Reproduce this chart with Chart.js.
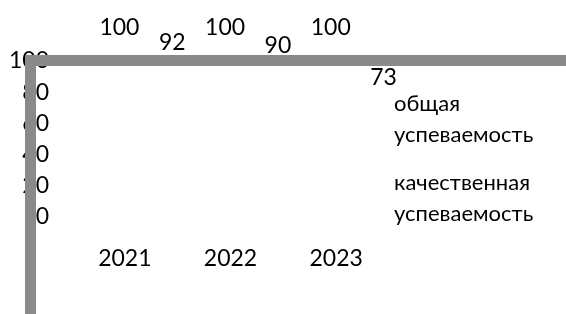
<!DOCTYPE html>
<html>
<head>
<meta charset="utf-8">
<script src="https://cdn.jsdelivr.net/npm/chart.js@4/dist/chart.umd.min.js"></script>
<style>
  html, body { margin: 0; padding: 0; background: #fff; }
  #wrap { width: 566px; height: 314px; }
</style>
</head>
<body>
<div id="wrap"><canvas id="myChart" width="566" height="314"></canvas></div>
<script>
const years = ['2021', '2022', '2023'];
const overall = [100, 100, 100];
const quality = [92, 90, 73];
const yTicks = [0, 20, 40, 60, 80, 100];
const legendLines = [['общая', 'успеваемость'], ['качественная', 'успеваемость']];

const fontFamily = 'Lato, "Open Sans", sans-serif';
const grey = '#8a8a8a';

// value labels above the (invisible) bars
const valueLabels = {
    id: 'valueLabels',
    afterDatasetsDraw(chart) {
        const ctx = chart.ctx;
        const y2 = chart.scales.y2;
        ctx.save();
        ctx.font = '23px ' + fontFamily;
        ctx.fillStyle = '#000';
        ctx.textAlign = 'center';
        ctx.textBaseline = 'middle';
        chart.data.datasets.forEach(function (ds, i) {
            chart.getDatasetMeta(i).data.forEach(function (bar, j) {
                ctx.fillText(ds.data[j], bar.x, y2.getPixelForValue(ds.data[j]) - 4);
            });
        });
        ctx.restore();
    }
};

// thick grey axis lines + the text legend
const decor = {
    id: 'decor',
    afterDraw(chart) {
        const ctx = chart.ctx;
        const area = chart.chartArea;
        const top = chart.scales.y.getPixelForValue(100);
        ctx.save();
        ctx.strokeStyle = grey;
        ctx.lineWidth = 11;
        ctx.beginPath();
        ctx.moveTo(30.5, chart.height);
        ctx.lineTo(30.5, top - 0.5);
        ctx.lineTo(chart.width, top - 0.5);
        ctx.stroke();

        ctx.font = '22px ' + fontFamily;
        ctx.fillStyle = '#000';
        ctx.textAlign = 'left';
        ctx.textBaseline = 'middle';
        legendLines.forEach(function (lines, i) {
            lines.forEach(function (t, k) {
                ctx.fillText(t, area.right - 16, 104 + i * 79 + k * 31);
            });
        });
        ctx.restore();
    }
};

new Chart(document.getElementById('myChart'), {
    type: 'bar',
    data: {
        labels: years,
        datasets: [
            { label: legendLines[0].join(' '), data: overall, yAxisID: 'y2', backgroundColor: 'rgba(0,0,0,0)' },
            { label: legendLines[1].join(' '), data: quality, yAxisID: 'y2', backgroundColor: 'rgba(0,0,0,0)' }
        ]
    },
    options: {
        responsive: false,
        animation: false,
        categoryPercentage: 1,
        barPercentage: 0.9,
        layout: { padding: { top: 61, left: 8, right: 156, bottom: 40 } },
        plugins: { legend: { display: false }, tooltip: { enabled: false } },
        scales: {
            x: {
                afterFit: function (s) { s.height = 57; },
                grid: { display: false, drawTicks: false },
                border: { display: false },
                ticks: { color: '#000', font: { family: fontFamily, size: 23 }, padding: 28, labelOffset: -21 }
            },
            y: {
                min: 0,
                max: 100,
                afterBuildTicks: function (s) { s.ticks = yTicks.map(v => ({ value: v })); },
                afterFit: function (s) { s.width = 85; },
                grid: { display: false, drawTicks: false },
                border: { display: false },
                ticks: { color: '#000', font: { family: fontFamily, size: 23 }, padding: 44, autoSkip: false }
            },
            y2: { display: false, min: 0, max: 84 }
        }
    },
    plugins: [valueLabels, decor]
});
</script>
</body>
</html>
